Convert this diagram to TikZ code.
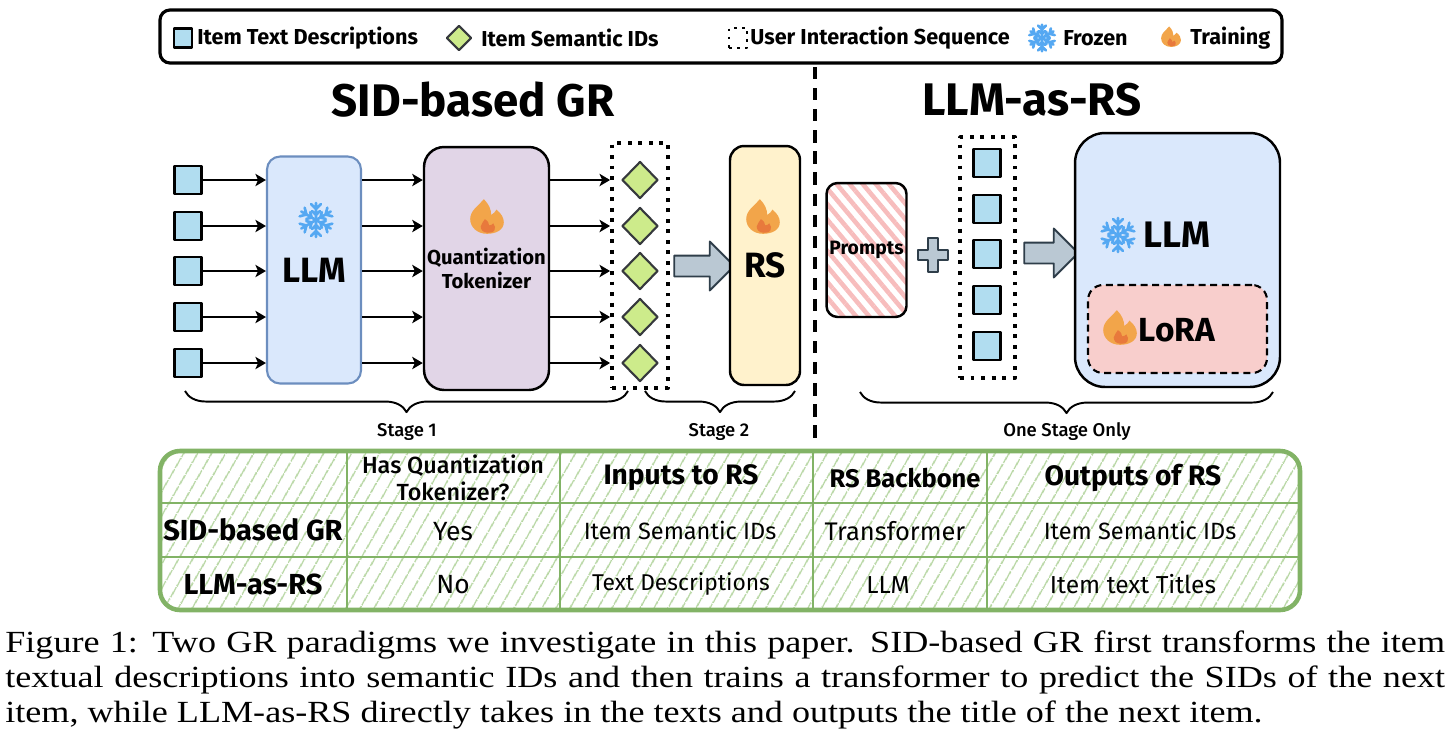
\documentclass[tikz,border=0pt]{standalone}
\usepackage{fontspec}
\setmainfont{Fira Sans}
\newfontfamily\medfont{Fira Sans Medium}
\newfontfamily\capfont{Liberation Serif}
\usetikzlibrary{arrows.meta,shapes.geometric,shapes.arrows,patterns.meta,decorations.pathreplacing}

\definecolor{itemblue}{HTML}{B1DDF0}
\definecolor{semgreen}{HTML}{CDEB8B}
\definecolor{llmblue}{HTML}{DAE8FC}
\definecolor{llmedge}{HTML}{6C8EBF}
\definecolor{qtpurple}{HTML}{E1D5E7}
\definecolor{rsyellow}{HTML}{FFF2CC}
\definecolor{lorapink}{HTML}{F8CECC}
\definecolor{arrowgray}{HTML}{BAC8D3}
\definecolor{arrowedge}{HTML}{2F3E4A}
\definecolor{snowblue}{HTML}{55A8F2}
\definecolor{flameout}{HTML}{F2A54A}
\definecolor{flamein}{HTML}{E8793C}
\definecolor{tablegreen}{HTML}{82B366}
\definecolor{hatchgreen}{HTML}{B3D49E}
\definecolor{promptpink}{HTML}{F7BDBD}
\definecolor{darkline}{HTML}{36393D}

\tikzset{
  itembox/.style={draw=black, line width=1.4pt, fill=itemblue, minimum width=0.54cm, minimum height=0.56cm, inner sep=0pt},
  semid/.style={diamond, draw=darkline, line width=1.2pt, fill=semgreen, minimum width=0.72cm, minimum height=0.74cm, inner sep=0pt},
  seqbox/.style={draw=black, line width=2.2pt, dash pattern=on 2.2pt off 3.8pt, inner sep=0pt},
  llmbox/.style={draw=llmedge, line width=1.2pt, fill=llmblue, rounded corners=0.26cm, minimum width=1.88cm, minimum height=4.54cm, font=\fontsize{20}{22}\selectfont\bfseries},
  qtbox/.style={draw=black, line width=1.4pt, fill=qtpurple, rounded corners=0.4cm, minimum width=2.5cm, minimum height=4.86cm, align=center, inner sep=0pt, font=\fontsize{11.5}{14}\selectfont\bfseries},
  rsbox/.style={draw=black, line width=1.4pt, fill=rsyellow, rounded corners=0.28cm, minimum width=1.4cm, minimum height=4.78cm, font=\fontsize{20}{22}\selectfont\bfseries},
  promptbox/.style={draw=black, line width=1.4pt, rounded corners=0.22cm, minimum width=1.6cm, minimum height=2.68cm, inner sep=0pt, pattern={Lines[angle=-50, distance=5.7pt, line width=2.6pt]}, pattern color=promptpink, font=\fontsize{11}{13}\selectfont\bfseries},
  bigllmbox/.style={draw=black, line width=1.4pt, fill=llmblue, rounded corners=0.6cm, minimum width=4.1cm, minimum height=5.08cm},
  lorabox/.style={draw=black, line width=1.2pt, dash pattern=on 4pt off 2.6pt, fill=lorapink, rounded corners=0.3cm, minimum width=3.58cm, minimum height=1.76cm},
  boxlabel/.style={font=\fontsize{21}{23}\selectfont\bfseries, inner sep=0pt},
  bigarrow/.style={single arrow, draw=arrowedge, line width=1.1pt, fill=arrowgray, minimum height=1.2cm, inner xsep=0pt, inner ysep=0.19cm, single arrow head extend=0.28cm, single arrow head indent=0pt},
  plusmark/.style={draw=arrowedge, line width=1.1pt, fill=arrowgray},
  flowarrow/.style={line width=1.1pt, -{Stealth[length=6pt, width=7pt, inset=1.5pt]}},
  divider/.style={line width=1.8pt, dash pattern=on 7pt off 5pt},
  legendframe/.style={line width=1.8pt, rounded corners=0.2cm},
  legendtext/.style={font=\fontsize{12.3}{14}\selectfont\bfseries, inner sep=0pt},
  titletext/.style={font=\fontsize{26}{30}\selectfont\bfseries},
  stagebrace/.style={line width=1.1pt, decorate, decoration={brace, mirror, amplitude=12pt}},
  stagelabel/.style={font=\fontsize{10.5}{12}\selectfont\medfont},
  tablehatch/.style={pattern={Lines[angle=60, distance=6.9pt, line width=0.9pt]}, pattern color=hatchgreen},
  tablegrid/.style={draw=tablegreen, line width=1.6pt},
  tableframe/.style={draw=tablegreen, line width=2.6pt},
  headcell/.style={font=\fontsize{16}{18}\selectfont\bfseries, align=center},
  rowcell/.style={font=\fontsize{16.5}{19}\selectfont\bfseries},
  cell/.style={font=\fontsize{13.4}{15}\selectfont},
  captext/.style={font=\fontsize{17.5}{20}\selectfont\capfont, inner sep=0pt},
  flameicon/.pic={
    \fill[flameout] (0,16) .. controls (-9,16) and (-16,10) .. (-16,2)
      .. controls (-16,-6) and (-9,-10) .. (-3,-17)
      .. controls (2,-12) and (4,-7) .. (4,-2)
      .. controls (6,-3) and (8,-5) .. (9,-7)
      .. controls (14,-3) and (16,1) .. (16,5)
      .. controls (16,12) and (9,16) .. (0,16) -- cycle;
    \fill[flamein] (1,15) .. controls (-4,15) and (-6,12) .. (-6,9)
      .. controls (-6,6) and (-3,5) .. (-2,2)
      .. controls (1,4) and (2,6) .. (2,8)
      .. controls (4,8) and (5,7) .. (6,6)
      .. controls (8,8) and (8,11) .. (7,13)
      .. controls (6,14.5) and (4,15) .. (1,15) -- cycle;
  },
  snowicon/.pic={
    \foreach \a in {0,60,...,300}{
      \draw[snowblue, line width=1.5pt, line cap=round, rotate=\a] (0,0) -- (0,-17)
        (-5,-16) -- (0,-11) -- (5,-16) (-4,-9) -- (0,-5) -- (4,-9);
    }
  }
}

\begin{document}
\begin{tikzpicture}[x=0.02cm, y=-0.02cm, line join=round]
  \useasboundingbox (0,0) rectangle (1456,745);

  \draw[legendframe] (160,10) rectangle (1282,63);
  \node[itembox, minimum width=0.36cm, minimum height=0.38cm] (lg1) at (183,38) {};
  \node[legendtext, anchor=west] (lt1) at (197,38) {Item Text Descriptions};
  \node[semid, minimum width=0.5cm, minimum height=0.5cm] (lg2) at (459,38) {};
  \node[legendtext, anchor=west] (lt2) at (481,38) {Item Semantic IDs};
  \node[seqbox, line width=1.6pt, dash pattern=on 1.6pt off 3pt, minimum width=0.36cm, minimum height=0.4cm] (lg3) at (738,38) {};
  \node[legendtext, anchor=west] (lt3) at (750,38) {User Interaction Sequence};
  \pic[scale=0.78] at (1042,38) {snowicon};
  \node[legendtext, anchor=west] (lt4) at (1063,38) {Frozen};
  \pic[scale=0.62] at (1171,37) {flameicon};
  \node[legendtext, anchor=west] (lt5) at (1190,38) {Training};

  \draw[divider] (815,67) -- (815,440);
  \node[titletext] (gr) at (473,100) {SID-based GR};
  \node[titletext] (lr) at (1032,100) {LLM-as-RS};

  \node[itembox] (t1) at (188,180) {};
  \node[itembox] (t2) at (188,226) {};
  \node[itembox] (t3) at (188,271) {};
  \node[itembox] (t4) at (188,317) {};
  \node[itembox] (t5) at (188,363) {};
  \node[llmbox] (llm) at (314,270) {LLM};
  \pic at (316,220) {snowicon};
  \node[qtbox] (qt) at (486.5,268.5) {Quantization\\Tokenizer};
  \pic[scale=1.05] at (487,217) {flameicon};
  \node[seqbox, minimum width=1.12cm, minimum height=4.9cm] (seq) at (640,265.5) {};
  \node[semid] (d1) at (640,180) {};
  \node[semid] (d2) at (640,226) {};
  \node[semid] (d3) at (640,271) {};
  \node[semid] (d4) at (640,317) {};
  \node[semid] (d5) at (640,363) {};
  \node[bigarrow] (ar1) at (699,266) {};
  \node[rsbox] (rs) at (765,265.5) {RS};
  \pic[scale=1.05] at (763,217) {flameicon};

  \begin{scope}[flowarrow]
    \draw (t1) -- (t1 -| llm.west);
    \draw (t2) -- (t2 -| llm.west);
    \draw (t3) -- (t3 -| llm.west);
    \draw (t4) -- (t4 -| llm.west);
    \draw (t5) -- (t5 -| llm.west);
    \draw (llm.east |- t1) -- (qt.west |- t1);
    \draw (llm.east |- t2) -- (qt.west |- t2);
    \draw (llm.east |- t3) -- (qt.west |- t3);
    \draw (llm.east |- t4) -- (qt.west |- t4);
    \draw (llm.east |- t5) -- (qt.west |- t5);
    \draw (qt.east |- d1) -- (seq.west |- d1);
    \draw (qt.east |- d2) -- (seq.west |- d2);
    \draw (qt.east |- d3) -- (seq.west |- d3);
    \draw (qt.east |- d4) -- (seq.west |- d4);
    \draw (qt.east |- d5) -- (seq.west |- d5);
  \end{scope}

  \node[promptbox] (pr) at (866.5,250) {Prompts};
  \draw[plusmark, shift={(933,255)}] (-5,-17) -- (5,-17) -- (5,-5) -- (15,-5) -- (15,5) -- (5,5)
    -- (5,17) -- (-5,17) -- (-5,5) -- (-15,5) -- (-15,-5) -- (-5,-5) -- cycle;
  \node[seqbox, minimum width=1.1cm, minimum height=4.82cm] (seq2) at (987.5,257.5) {};
  \node[itembox] (s1) at (987,163) {};
  \node[itembox] (s2) at (987,209) {};
  \node[itembox] (s3) at (987,254) {};
  \node[itembox] (s4) at (987,300) {};
  \node[itembox] (s5) at (987,346) {};
  \node[bigarrow, minimum height=1.08cm] (ar2) at (1046,253) {};
  \node[bigllmbox] (bl) at (1177.5,260) {};
  \node[lorabox] (lora) at (1177.5,329) {};
  \pic at (1118,235) {snowicon};
  \node[boxlabel] (bll) at (1177,235) {LLM};
  \pic[scale=1.05] at (1120,328) {flameicon};
  \node[boxlabel, font=\fontsize{19}{21}\selectfont\bfseries] (lrl) at (1177,330) {LoRA};

  \draw[stagebrace] (185,391) -- (628,391);
  \node[stagelabel] (st1) at (407,432) {Stage 1};
  \draw[stagebrace] (645,391) -- (795,391);
  \node[stagelabel] (st2) at (719,432) {Stage 2};
  \draw[stagebrace] (860,392) -- (1273,392);
  \node[stagelabel] (st3) at (1067,432) {One Stage Only};

  \fill[tablehatch, rounded corners=0.4cm] (160,451) rectangle (1300,610);
  \draw[tablegrid] (160,503) -- (1300,503) (160,557) -- (1300,557)
    (347,451) -- (347,610) (560,451) -- (560,610) (813,451) -- (813,610) (987,451) -- (987,610);
  \draw[tableframe, rounded corners=0.4cm] (160,451) rectangle (1300,610);
  \node[headcell, font=\fontsize{13.3}{15.5}\selectfont\medfont] (h1) at (453,478) {Has Quantization\\Tokenizer?};
  \node[headcell] (h2) at (681,478) {Inputs to RS};
  \node[headcell, font=\fontsize{14.5}{17}\selectfont\bfseries] (h3) at (905,478) {RS Backbone};
  \node[headcell] (h4) at (1133,478) {Outputs of RS};
  \node[rowcell] (r1) at (253,530) {SID-based GR};
  \node[cell, font=\fontsize{15}{17}\selectfont] (c11) at (453,532) {Yes};
  \node[cell] (c12) at (680,530) {Item Semantic IDs};
  \node[cell, font=\fontsize{14.5}{17}\selectfont] (c13) at (895,531) {Transformer};
  \node[cell] (c14) at (1140,530) {Item Semantic IDs};
  \node[rowcell] (r2) at (253,584) {LLM-as-RS};
  \node[cell, font=\fontsize{15}{17}\selectfont] (c21) at (453,585) {No};
  \node[cell, font=\fontsize{13}{15}\selectfont] (c22) at (681,584) {Text Descriptions};
  \node[cell, font=\fontsize{14}{16}\selectfont] (c23) at (888,585) {LLM};
  \node[cell, font=\fontsize{14}{16}\selectfont] (c24) at (1133,584) {Item text Titles};

  \node[captext, anchor=base west] (cap1) at (5,652) {\scalebox{1.175}[1]{\makebox[24.51cm][s]{Figure 1: Two GR paradigms we investigate in this paper. SID-based GR first transforms the item}}};
  \node[captext, anchor=base west] (cap2) at (5,687) {\scalebox{1.175}[1]{\makebox[24.51cm][s]{textual descriptions into semantic IDs and then trains a transformer to predict the SIDs of the next}}};
  \node[captext, anchor=base west] (cap3) at (5,722) {\scalebox{1.175}[1]{item, while LLM-as-RS directly takes in the texts and outputs the title of the next item.}};
\end{tikzpicture}
\end{document}
